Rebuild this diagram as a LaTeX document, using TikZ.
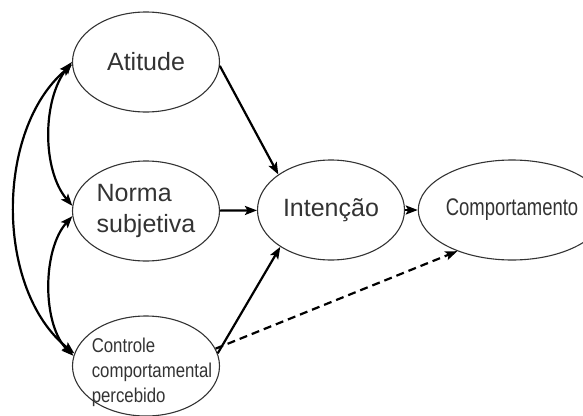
\documentclass[tikz,border=0pt]{standalone}
\usepackage{fontspec}
\setmainfont{Liberation Sans}
\newfontfamily\narrowfont[FakeStretch=0.84]{Liberation Sans}
\newfontfamily\tightfont[FakeStretch=0.77]{Liberation Sans}
\usetikzlibrary{shapes.geometric,arrows.meta}
\begin{document}
\begin{tikzpicture}[x=1pt,y=-1pt,>={Stealth[length=12pt,width=9pt,inset=2.5pt]}]
        \tikzstyle{construct}=[ellipse,draw=black!80,line width=1.1pt,minimum width=147pt,minimum height=100pt,inner sep=0pt,text=black!80,font=\fontsize{25}{31}\selectfont]
        \tikzstyle{edge}=[draw, line width=2.2pt, ->]
        \tikzstyle{corr}=[draw, line width=2.2pt, <->]
        \useasboundingbox (0,0) rectangle (583,415);
        \begin{scope}
            \node [construct] (atitude) at (146,62) {Atitude};
            \node [construct,align=left] (norma) at (146,211) {Norma\\subjetiva};
            \node [construct] (controle) at (146,366) {};
            \node [text=black!80,align=left,font=\narrowfont\fontsize{20}{25}\selectfont] (controletxt) at (152,372) {Controle\\comportamental\\percebido};
            \node [construct] (intencao) at (331,210) {Intenção};
            \node [construct,minimum width=140pt,font=\tightfont\fontsize{24}{28}\selectfont] (comport) at (512,210) {Comportamento};
            % correlations
            \path[corr] (atitude.west) .. controls (42,100) and (42,170) .. (norma.176);
            \path[corr] (norma.184) .. controls (42,250) and (42,325) .. (controle.172);
            \path[corr] (atitude.182) .. controls (-5,130) and (-5,290) .. (controle.170);
            % paths
            \path[edge] (atitude.-3) -- (intencao.146);
            \path[edge] (norma) edge (intencao);
            \path[edge] (controle.10) -- (intencao.216);
            \path[edge] (intencao) edge (comport);
            \path[edge,dash pattern=on 8pt off 5pt] (controle.14) -- (comport.217);
        \end{scope}
\end{tikzpicture}
\end{document}
